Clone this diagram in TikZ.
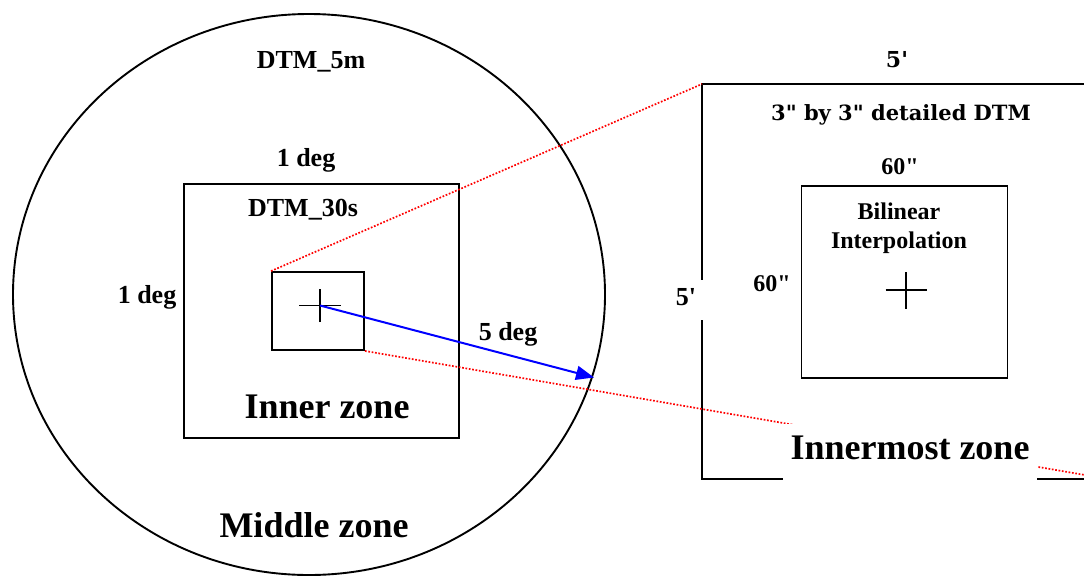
\documentclass[tikz,border=0pt]{standalone}
\usepackage{fontspec}
\setmainfont{Liberation Serif}[Ligatures=TeXOff]
\newfontfamily\slabfont{DejaVu Serif}[Ligatures=TeXOff]
\usetikzlibrary{shapes.geometric,arrows.meta}
\tikzset{
  lbl/.style={font=\fontsize{26}{30}\selectfont\bfseries, inner sep=0},
  rlbl/.style={font=\fontsize{24}{29}\selectfont\bfseries, inner sep=0, align=center},
  slab/.style={font=\slabfont\fontsize{21}{25}\selectfont\bfseries, inner sep=0},
  zone/.style={font=\fontsize{36}{40}\selectfont\bfseries, inner sep=0},
  box/.style={draw, line width=1.9pt, rectangle, inner sep=0},
  crossline/.style={line width=1.6pt},
  zoomline/.style={red, line width=1.7pt, dash pattern=on 1.7pt off 1.7pt},
  arr/.style={blue, line width=2pt, -{Triangle[length=18pt,width=14pt]}}
}
\begin{document}
\begin{tikzpicture}[x=1pt,y=-1pt]
\useasboundingbox (0,0) rectangle (1084,576);
\clip (0,0) rectangle (1084,576);
% middle zone circle
\node[draw, ellipse, line width=1.9pt, inner sep=0, minimum width=592, minimum height=561] (mid) at (309,294.5) {};
% inner zone box
\node[box, minimum width=275, minimum height=254] (inner) at (321.5,311) {};
% innermost small box
\node[box, minimum width=92, minimum height=78] (sb) at (318,311) {};
% cross in small box
\coordinate (c1) at (320,305.5);
\draw[crossline] ([xshift=-21pt]c1) -- ([xshift=21pt]c1);
\draw[crossline] ([yshift=-16.5pt]c1) -- ([yshift=16.5pt]c1);
% right big box (extends past right edge)
\coordinate (rbnw) at (702,84);
\coordinate (rbsw) at (702,479);
\draw[line width=2.4pt] (1100,84) -- (rbnw) -- (rbsw) -- (1100,479);
% inner right box
\node[box, minimum width=206, minimum height=192] (irb) at (904.5,282) {};
\coordinate (c2) at (906,290);
\draw[crossline] ([xshift=-20.5pt]c2) -- ([xshift=20.5pt]c2);
\draw[crossline] ([yshift=-18.5pt]c2) -- ([yshift=18.5pt]c2);
% zoom lines
\coordinate (zend) at (1100,477.6);
\draw[zoomline] (sb.north west) -- (rbnw);
\draw[zoomline] (sb.south east) -- (zend);
% arrow
\coordinate (ae) at (594,377.5);
\draw[arr] (c1) -- (ae);
% labels left
\node[lbl] (t5m) at (311,62) {DTM\_5m};
\node[lbl] (tdegtop) at (306,160) {1 deg};
\node[lbl] (t30s) at (303,210) {DTM\_30s};
\node[lbl] (tdegleft) at (147,297) {1 deg};
\node[lbl] (t5deg) at (508,334) {5 deg};
\node[zone] (tinner) at (327,407) {Inner zone};
\node[zone] (tmiddle) at (314,525) {Middle zone};
% labels right
\node[font=\slabfont\fontsize{22}{26}\selectfont\bfseries, inner sep=0] (t5top) at (897,60) {5'};
\node[slab] (tdtm) at (901,115) {3" by 3" detailed DTM};
\node[rlbl] (t60top) at (900,167) {60"};
\node[rlbl] (tbil) at (899,228) {Bilinear\\Interpolation};
\node[rlbl] (t60left) at (772,284) {60"};
\node[lbl, fill=white, minimum width=40, minimum height=40, text depth=6pt] (t5left) at (686,300) {5'};
\node[zone, fill=white, minimum width=254, minimum height=57, text depth=8pt] (tinnermost) at (910,452) {Innermost zone};
\end{tikzpicture}
\end{document}
